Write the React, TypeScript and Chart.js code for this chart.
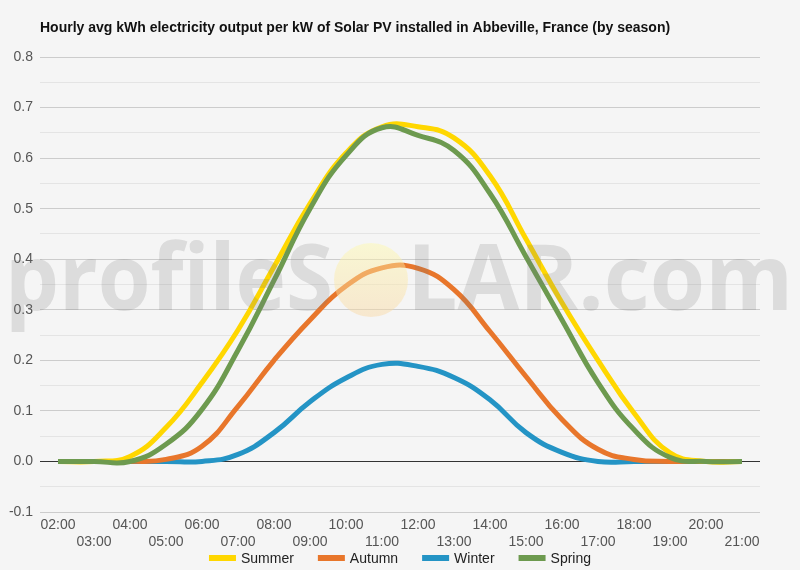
import React, { useEffect, useRef } from 'react';
import { Chart, registerables } from 'chart.js';

Chart.register(...registerables);

const TITLE = 'Hourly avg kWh electricity output per kW of Solar PV installed in Abbeville, France (by season)';

const hours = [
  '02:00', '03:00', '04:00', '05:00', '06:00', '07:00', '08:00', '09:00', '10:00', '11:00',
  '12:00', '13:00', '14:00', '15:00', '16:00', '17:00', '18:00', '19:00', '20:00', '21:00',
];

const summer = [0, 0, 0.01, 0.067, 0.156, 0.26, 0.385, 0.51, 0.61, 0.662, 0.662, 0.64, 0.565, 0.44, 0.314, 0.2, 0.096, 0.017, 0, 0];
const autumn = [0, 0, 0, 0.004, 0.03, 0.109, 0.2, 0.28, 0.347, 0.383, 0.382, 0.34, 0.257, 0.168, 0.083, 0.024, 0.004, 0, 0, 0];
const winter = [0, 0, 0, 0, 0, 0.014, 0.057, 0.118, 0.165, 0.192, 0.188, 0.166, 0.122, 0.057, 0.018, 0, 0, 0, 0, 0];
const spring = [0, 0, 0, 0.034, 0.103, 0.22, 0.358, 0.5, 0.605, 0.66, 0.645, 0.615, 0.53, 0.405, 0.28, 0.156, 0.063, 0.008, 0, 0];

const seasonNames = ['Summer', 'Autumn', 'Winter', 'Spring'];
const seasonColors = ['#FFD700', '#E8762B', '#2494C5', '#6D9A4F'];

const FONT = '"Liberation Sans", Arial, sans-serif';

// title, watermark and legend drawn by hand
const extras = {
  id: 'extras',
  afterDraw(chart: any) {
    const ctx = chart.ctx as CanvasRenderingContext2D;
    ctx.save();
    ctx.fillStyle = '#111';
    ctx.font = 'bold 14px ' + FONT;
    ctx.textBaseline = 'middle';
    ctx.textAlign = 'left';
    ctx.fillText(TITLE, 40, 28);

    // watermark
    const fitText = (txt: string, x0: number, x1: number, base: number) => {
      ctx.font = 'bold 92px "Open Sans", sans-serif';
      const w = ctx.measureText(txt).width;
      ctx.save();
      ctx.translate(x0, base);
      ctx.scale((x1 - x0) / w, 1);
      ctx.textBaseline = 'alphabetic';
      ctx.fillText(txt, 0, 0);
      ctx.restore();
    };
    ctx.fillStyle = 'rgba(120,120,120,0.2)';
    fitText('profileS', 5, 333, 310);
    fitText('LAR.com', 407, 793, 310);
    const g = ctx.createLinearGradient(0, 243, 0, 317);
    g.addColorStop(0, 'rgba(255,250,170,0.45)');
    g.addColorStop(1, 'rgba(250,215,160,0.45)');
    ctx.fillStyle = g;
    ctx.beginPath();
    ctx.arc(371, 280, 37, 0, Math.PI * 2);
    ctx.fill();

    // legend
    ctx.font = '14px ' + FONT;
    const sw = 27, gap = 5, itemGap = 24;
    const widths = seasonNames.map((n) => sw + gap + ctx.measureText(n).width);
    const total = widths.reduce((a, b) => a + b, 0) + itemGap * (widths.length - 1);
    let x = 400 - total / 2;
    const y = 558;
    seasonNames.forEach((n, i) => {
      ctx.fillStyle = seasonColors[i];
      ctx.fillRect(x, y - 3, sw, 6);
      ctx.fillStyle = '#222';
      ctx.textBaseline = 'middle';
      ctx.fillText(n, x + sw + gap, y + 1);
      x += widths[i] + itemGap;
    });
    ctx.restore();
  },
};

const gridColor = (ctx: any) => {
  const v = Math.round((ctx.tick?.value ?? 0) * 100);
  if (v === 0) return '#333';
  if (v % 10 === 0) return '#cccccc';
  return '#e4e4e4';
};

const App = () => {
  const chartRef = useRef<HTMLCanvasElement | null>(null);

  useEffect(() => {
    if (!chartRef.current) return;
    const series = [summer, autumn, winter, spring];
    const orders = [2, 3, 4, 1];
    const chart = new Chart(chartRef.current, {
      type: 'line',
      data: {
        labels: hours,
        datasets: series.map((d, i) => ({
          label: seasonNames[i],
          data: d,
          borderColor: seasonColors[i],
          backgroundColor: seasonColors[i],
          borderWidth: 5,
          pointRadius: 0,
          tension: 0.45,
          order: orders[i],
        })),
      },
      options: {
        animation: false,
        responsive: true,
        maintainAspectRatio: false,
        layout: { padding: { top: 57, right: 40, bottom: 12, left: 0 } },
        plugins: { legend: { display: false }, title: { display: false }, tooltip: { enabled: false } },
        scales: {
          x: {
            offset: true,
            grid: { display: false, drawTicks: false },
            border: { display: false },
            ticks: {
              autoSkip: false,
              maxRotation: 0,
              padding: 5,
              color: '#555',
              font: { size: 14, family: FONT },
              callback: (_v: any, i: number) => (i % 2 === 0 ? hours[i] : ['', hours[i]]),
            },
            afterFit: (s: any) => { s.height = 46; },
          },
          y: {
            min: -0.1,
            max: 0.8,
            grid: { color: gridColor, drawTicks: false, lineWidth: 1 },
            border: { display: false },
            ticks: {
              stepSize: 0.05,
              padding: 7,
              color: '#555',
              font: { size: 14, family: FONT },
              callback: (v: any) => {
                const n = Math.round(Number(v) * 100);
                return n % 10 === 0 ? (n / 100).toFixed(1) : '';
              },
            },
            afterFit: (s: any) => { s.width = 40; },
          },
        },
      },
      plugins: [extras],
    });
    return () => {
      chart.destroy();
    };
  }, []);

  return (
    <div style={{ position: 'fixed', left: 0, top: 0, width: 800, height: 570, background: '#f5f5f5' }}>
      <canvas ref={chartRef}></canvas>
    </div>
  );
};

export default App;
